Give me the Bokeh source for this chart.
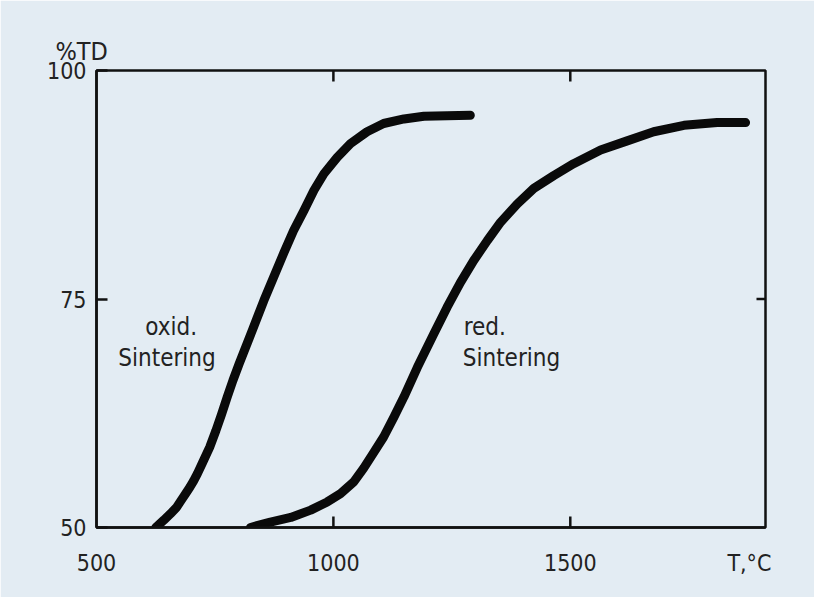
from bokeh.plotting import figure
from bokeh.models import LinearAxis, FixedTicker, Label, Range1d
from bokeh.embed import file_html
from bokeh.resources import INLINE

# Data
ox_temp = [625, 642, 656, 669, 679, 688, 697, 705, 713, 723, 739, 752, 764, 776, 788, 801,
           829, 853, 874, 895, 916, 938, 959, 980, 1008, 1036, 1071, 1106, 1149, 1191, 1289]
ox_td = [50.0, 50.8, 51.5, 52.2, 53.0, 53.7, 54.4, 55.1, 55.9, 57.0, 58.8, 60.6, 62.4, 64.3, 66.1, 67.9,
         71.6, 74.8, 77.4, 80.0, 82.5, 84.7, 86.9, 88.7, 90.5, 92.0, 93.3, 94.2, 94.7, 95.0, 95.1]
red_temp = [825, 867, 910, 952, 987, 1015, 1043, 1064, 1085, 1106, 1128, 1149, 1177, 1212, 1240,
            1268, 1296, 1325, 1353, 1388, 1423, 1465, 1507, 1564, 1620, 1676, 1740, 1810, 1870]
red_td = [50.0, 50.6, 51.1, 51.9, 52.8, 53.7, 55.0, 56.5, 58.2, 59.9, 62.1, 64.3, 67.5, 71.2, 74.1,
          76.8, 79.2, 81.4, 83.4, 85.4, 87.1, 88.5, 89.8, 91.3, 92.3, 93.3, 94.0, 94.3, 94.3]

x_ticks = [500, 1000, 1500]
y_ticks = [50, 75, 100]
x_label_pos = 1878
x_label_text = "T,°C"
y_label_text = "%TD"

FONT = "DejaVu Sans Condensed"
TXT = "#222222"
BG = "#e3ecf3"
INK = "#111111"

X0, X1, Y0, Y1 = 500, 1912, 50, 100

p = figure(width=814, height=597, output_backend="svg", toolbar_location=None,
           x_range=Range1d(X0, X1), y_range=Range1d(Y0, Y1),
           x_axis_location=None, y_axis_location=None,
           min_border_left=96, min_border_right=49, min_border_top=70, min_border_bottom=70,
           title=y_label_text)
p.background_fill_color = BG
p.border_fill_color = BG
p.outline_line_color = INK
p.outline_line_width = 2.5
p.xgrid.visible = False
p.ygrid.visible = False

p.title.align = "left"
p.title.offset = -41
p.title.standoff = 10
p.title.text_font = FONT
p.title.text_font_size = "25px"
p.title.text_font_style = "normal"
p.title.text_color = TXT

def style(ax):
    ax.axis_line_color = INK
    ax.axis_line_width = 2.5
    ax.major_tick_line_color = INK
    ax.major_tick_line_width = 2.5
    ax.major_tick_in = 11
    ax.major_tick_out = 0
    ax.minor_tick_line_color = None
    ax.major_label_text_font = FONT
    ax.major_label_text_font_size = "23px"
    ax.major_label_text_color = TXT

bottom = LinearAxis(ticker=FixedTicker(ticks=x_ticks + [x_label_pos]),
                    major_label_overrides={x_label_pos: x_label_text})
style(bottom)
bottom.major_tick_line_color = None
bottom.major_label_standoff = 22
p.add_layout(bottom, "below")

left = LinearAxis(ticker=FixedTicker(ticks=y_ticks))
style(left)
left.major_label_standoff = 10
p.add_layout(left, "left")

# inward tick marks on the bottom, top and right frame edges
tx = x_ticks[1:]
p.segment(x0=tx, y0=[Y0] * len(tx), x1=tx, y1=[Y0 + 1.2] * len(tx), line_color=INK, line_width=2.5)
p.segment(x0=tx, y0=[Y1] * len(tx), x1=tx, y1=[Y1 - 1.2] * len(tx), line_color=INK, line_width=2.5)
ty = y_ticks[1:2]
p.segment(x0=[X1] * len(ty), y0=ty, x1=[X1 - 19] * len(ty), y1=ty, line_color=INK, line_width=2.5)

p.line(ox_temp, ox_td, line_width=9, line_color="#0a0a0a", line_cap="round", line_join="round")
p.line(red_temp, red_td, line_width=9, line_color="#0a0a0a", line_cap="round", line_join="round")

def lab(x, y, t):
    p.add_layout(Label(x=x, y=y, text=t, text_font=FONT, text_font_size="24px",
                       text_color=TXT, text_align="left", text_baseline="alphabetic"))

lab(603, 71.9, "oxid.")
lab(546, 68.5, "Sintering")
lab(1275, 71.9, "red.")
lab(1273, 68.5, "Sintering")

open("out.html", "w").write(file_html(p, INLINE))
